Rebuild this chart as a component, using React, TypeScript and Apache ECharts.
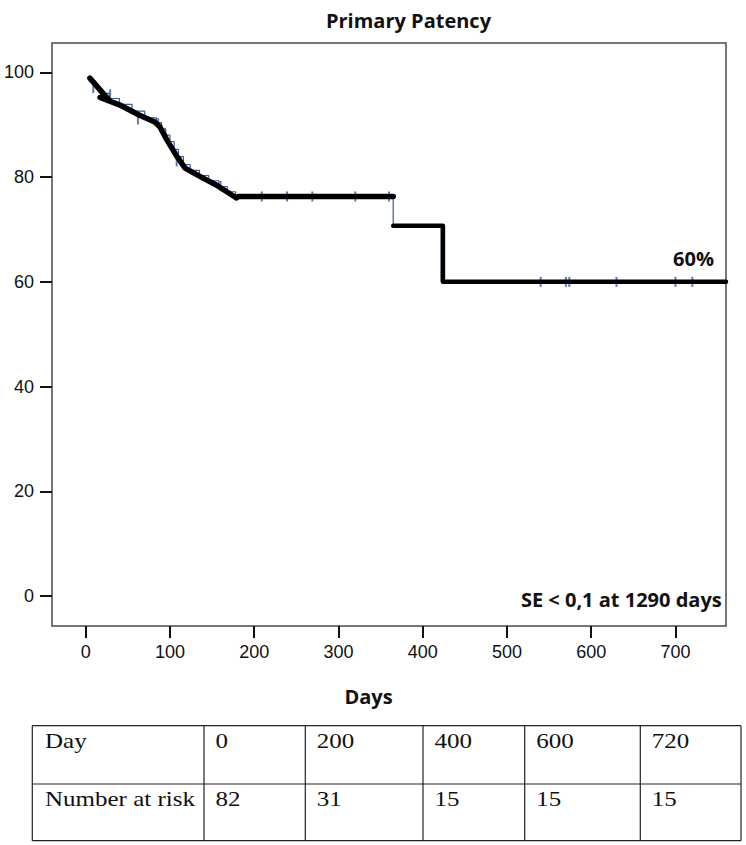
import React, { useEffect, useRef } from "react";
import * as echarts from "echarts";

// ---- data ----
const xTicks = [0, 100, 200, 300, 400, 500, 600, 700];
const yTicks = [0, 20, 40, 60, 80, 100];

// thick black hand-drawn overlay (day, % patent)
const blackEarly: [number, number][] = [
  [5, 98.9], [28, 94.6], [17, 95.2], [40, 93.8], [64, 91.8], [82, 90.5],
  [88, 89.6], [96, 87.2], [108, 84], [118, 81.7], [136, 80.1], [155, 78.5],
  [179, 76], [181, 76.3], [365, 76.3],
];
const blackLate: [number, number][] = [
  [365, 70.7], [424, 70.7], [424, 60], [760, 60],
];

// thin blue Kaplan-Meier step line
const kmSteps: [number, number][] = [
  [3, 98.8], [8, 97.8], [14, 96.8], [20, 96], [28, 95], [40, 93.9],
  [55, 92.6], [70, 91.3], [84, 90.4], [90, 89.2], [95, 88], [100, 86.8],
  [105, 85.3], [110, 83.9], [116, 82.4], [124, 81.3], [135, 80.3],
  [146, 79.3], [158, 78.2], [168, 77.2], [178, 76.3], [365, 70.7], [422, 60],
  [760, 60],
];

// censored observations
const censored: [number, number][] = [
  [9, 97], [29, 95.8], [62, 91], [86, 90.3], [108, 83], [160, 78.3],
  [209, 76.3], [239, 76.3], [269, 76.3], [320, 76.3], [360, 76.3],
  [540, 60], [570, 60], [574, 60], [630, 60], [700, 60], [720, 60],
];

const titleText = "Primary Patency";
const xName = "Days";
const endLabel = "60%";
const seNote = "SE < 0,1 at 1290 days";

const tableDayRow = ["Day", "0", "200", "400", "600", "720"];
const tableRiskRow = ["Number at risk", "82", "31", "15", "15", "15"];

// ---- layout ----
const W = 746;
const H = 845;
const colX = [32.3, 204, 305.3, 423, 524.7, 640.3, 741];
const rowY = [725.7, 784, 840.7];
const rowTextY = [741, 799.5];

export default function App() {
  const ref = useRef<HTMLDivElement>(null);

  useEffect(() => {
    document.body.style.margin = "0";
    if (!ref.current) return;
    const chart = echarts.init(ref.current, undefined, { renderer: "svg" });

    const tableGraphics: any[] = [];
    rowY.forEach((y) => {
      tableGraphics.push({
        type: "line",
        shape: { x1: colX[0], y1: y, x2: colX[colX.length - 1], y2: y },
        style: { stroke: "#222", lineWidth: 1.2 },
      });
    });
    colX.forEach((x) => {
      tableGraphics.push({
        type: "line",
        shape: { x1: x, y1: rowY[0], x2: x, y2: rowY[rowY.length - 1] },
        style: { stroke: "#222", lineWidth: 1.2 },
      });
    });
    [tableDayRow, tableRiskRow].forEach((row, ri) => {
      row.forEach((t, ci) => {
        tableGraphics.push({
          type: "text",
          x: colX[ci] + (ci === 0 ? 12.7 : 11.5),
          y: rowTextY[ri],
          scaleX: 1.22,
          style: {
            text: t,
            fontFamily: "Liberation Serif",
            fontSize: 20.5,
            fill: "#111",
            align: "left",
            verticalAlign: "middle",
          },
        });
      });
    });

    const boldFont = {
      fontFamily: "Open Sans",
      fontWeight: "bold",
      fontSize: 20,
      fill: "#111",
    };

    chart.setOption({
      animation: false,
      backgroundColor: "#fff",
      grid: {
        left: 52,
        top: 43,
        width: 674,
        height: 583,
        show: true,
        borderColor: "#4a4a4a",
        borderWidth: 1.5,
        backgroundColor: "#fff",
      },
      xAxis: {
        type: "value",
        min: -40,
        max: 760,
        axisLine: { show: false, onZero: false },
        splitLine: { show: false },
        axisTick: {
          show: true,
          customValues: xTicks,
          length: 12,
          lineStyle: { color: "#111", width: 2 },
        },
        axisLabel: {
          customValues: xTicks,
          margin: 17,
          fontSize: 18,
          fontFamily: "Liberation Sans",
          color: "#111",
        },
      },
      yAxis: {
        type: "value",
        min: -5.7,
        max: 105.6,
        axisLine: { show: false, onZero: false },
        splitLine: { show: false },
        axisTick: {
          show: true,
          customValues: yTicks,
          length: 12,
          lineStyle: { color: "#111", width: 2 },
        },
        axisLabel: {
          customValues: yTicks,
          margin: 18,
          fontSize: 18,
          fontFamily: "Liberation Sans",
          color: "#111",
        },
      },
      series: [
        {
          type: "line",
          step: "end",
          data: kmSteps,
          symbol: "none",
          silent: true,
          z: 2,
          lineStyle: { color: "#3a5ba0", width: 1.2 },
        },
        {
          type: "scatter",
          data: censored,
          symbol: "rect",
          symbolSize: [2, 10],
          silent: true,
          z: 3,
          itemStyle: { color: "#3a5ba0" },
        },
        {
          type: "line",
          data: blackEarly,
          symbol: "none",
          silent: true,
          z: 4,
          lineStyle: { color: "#000", width: 5.5, cap: "round", join: "round" },
        },
        {
          type: "line",
          data: blackLate,
          symbol: "none",
          silent: true,
          z: 4,
          lineStyle: { color: "#000", width: 4.5, cap: "round", join: "round" },
        },
      ],
      graphic: [
        {
          type: "text",
          x: 408.5,
          y: 20,
          style: { ...boldFont, text: titleText, align: "center", verticalAlign: "middle" },
        },
        {
          type: "text",
          x: 368.5,
          y: 696,
          style: { ...boldFont, text: xName, align: "center", verticalAlign: "middle" },
        },
        {
          type: "text",
          x: 693.5,
          y: 258.5,
          z: 10,
          style: { ...boldFont, text: endLabel, align: "center", verticalAlign: "middle" },
        },
        {
          type: "text",
          x: 721.7,
          y: 599,
          z: 10,
          style: { ...boldFont, text: seNote, align: "right", verticalAlign: "middle" },
        },
        ...tableGraphics,
      ],
    });

    return () => chart.dispose();
  }, []);

  return <div ref={ref} style={{ width: W, height: H }} />;
}
